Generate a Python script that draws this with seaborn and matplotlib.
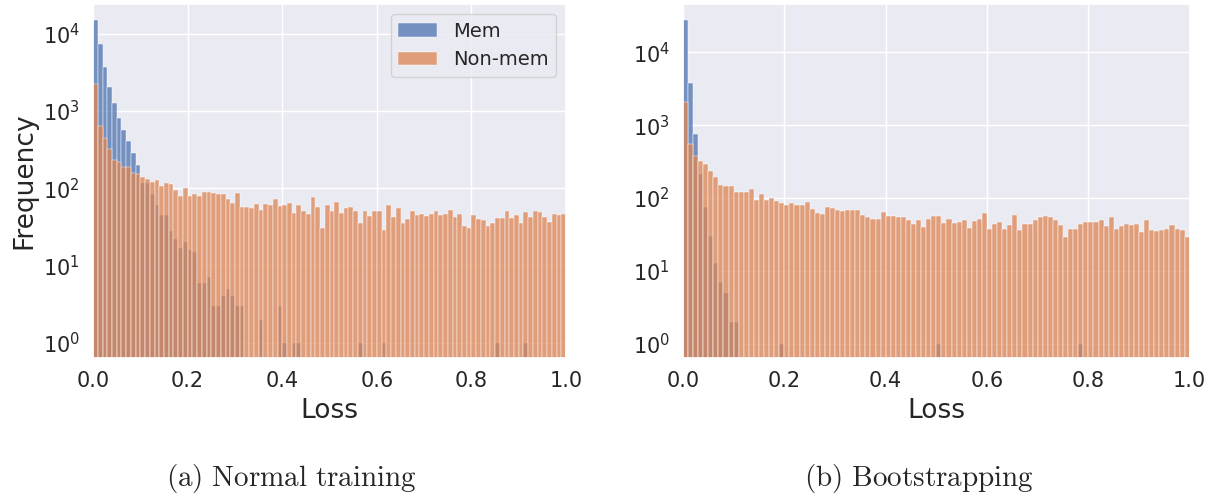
import numpy as np
import pandas as pd
import matplotlib
matplotlib.use("Agg")
import matplotlib.pyplot as plt
import seaborn as sns

# Loss histograms: 100 bins of width 0.01 over [0, 1]
n_bins = 100
loss_range = (0.0, 1.0)

# (a) Normal training
normal_mem = [
    15000, 7400, 3750, 2060, 1260, 800, 570, 405, 286, 202,
    118, 118, 84, 60, 45, 45, 28, 22, 17, 20,
    16, 15, 6, 6, 7, 3, 3, 4, 5, 4,
    3, 3, 0, 0, 0, 2, 0, 0, 0, 3,
    1, 0, 1, 1, 0, 0, 0, 0, 0, 0,
    0, 0, 0, 0, 0, 0, 1, 0, 0, 0,
    0, 1, 0, 0, 0, 0, 0, 0, 0, 0,
    0, 0, 0, 0, 0, 0, 0, 0, 0, 0,
    0, 0, 0, 0, 0, 1, 0, 0, 0, 0,
    0, 1, 0, 0, 0, 0, 0, 0, 0, 0,
]
normal_nonmem = [
    2200, 630, 444, 326, 235, 221, 187, 187, 156, 152,
    140, 132, 120, 128, 106, 116, 112, 94, 80, 102,
    79, 85, 80, 90, 90, 86, 85, 83, 73, 65,
    87, 58, 58, 56, 63, 53, 63, 61, 73, 59,
    60, 65, 48, 60, 50, 47, 76, 58, 31, 60,
    50, 67, 48, 56, 57, 50, 35, 50, 44, 51,
    50, 29, 60, 42, 56, 36, 40, 51, 45, 47,
    44, 47, 51, 45, 47, 53, 43, 47, 32, 31,
    45, 40, 39, 32, 35, 41, 41, 51, 41, 45,
    36, 49, 43, 50, 49, 42, 37, 47, 45, 47,
]

# (b) Bootstrapping
boot_mem = [
    27800, 3830, 764, 216, 75, 30, 13, 7, 5, 2,
    2, 0, 0, 0, 0, 0, 0, 0, 0, 1,
    0, 0, 0, 0, 0, 0, 0, 0, 0, 0,
    0, 0, 0, 0, 0, 0, 0, 0, 0, 0,
    0, 0, 0, 0, 0, 0, 0, 0, 0, 0,
    1, 0, 0, 0, 0, 0, 0, 0, 0, 0,
    0, 0, 0, 0, 0, 0, 0, 0, 0, 0,
    0, 0, 0, 0, 0, 0, 0, 0, 1, 0,
    0, 0, 0, 0, 0, 0, 0, 0, 0, 0,
    0, 0, 0, 0, 0, 0, 0, 0, 0, 0,
]
boot_nonmem = [
    2100, 556, 381, 322, 296, 235, 196, 152, 145, 145,
    121, 121, 121, 133, 95, 113, 95, 100, 91, 86,
    81, 86, 81, 81, 88, 70, 62, 60, 75, 74,
    69, 66, 68, 68, 68, 58, 55, 52, 52, 65,
    57, 57, 55, 55, 50, 44, 50, 40, 52, 57,
    57, 46, 52, 46, 47, 50, 39, 49, 52, 62,
    37, 44, 47, 37, 43, 58, 36, 44, 44, 50,
    54, 57, 54, 50, 43, 29, 38, 38, 44, 47,
    47, 47, 50, 41, 54, 38, 41, 44, 43, 44,
    34, 50, 36, 35, 36, 38, 43, 38, 36, 29,
]

series_labels = ["Mem", "Non-mem"]
x_ticks = [0.0, 0.2, 0.4, 0.6, 0.8, 1.0]
captions = [r"$\mathrm{(a)\ Normal\ training}$", r"$\mathrm{(b)\ Bootstrapping}$"]

sns.set_theme(style="darkgrid")
plt.rcParams["mathtext.fontset"] = "cm"
palette = sns.color_palette("deep")

fig = plt.figure(figsize=(12.15, 4.95), dpi=100)
ax_a = fig.add_axes([0.0766, 0.2762, 0.3893, 0.7157])
ax_b = fig.add_axes([0.5621, 0.2762, 0.4171, 0.7157])

edges = np.linspace(loss_range[0], loss_range[1], n_bins + 1)
centers = (edges[:-1] + edges[1:]) / 2

panels = [
    (ax_a, normal_mem, normal_nonmem, (0.63, 24200)),
    (ax_b, boot_mem, boot_nonmem, (0.63, 46000)),
]
for ax, mem, nonmem, ylim in panels:
    for counts, label, color in zip([mem, nonmem], series_labels, palette[:2]):
        df = pd.DataFrame({"loss": centers, "count": counts})
        sns.histplot(data=df, x="loss", weights="count", bins=n_bins,
                     binrange=loss_range, color=color, alpha=0.75,
                     label=label, ax=ax)
    ax.set_yscale("log")
    ax.set_ylim(*ylim)
    ax.set_xlim(0, 1)
    ax.set_xticks(x_ticks)
    ax.set_xticklabels([f"{t:.1f}" for t in x_ticks])
    ax.tick_params(labelsize=15)
    ax.set_xlabel("Loss", fontsize=19, labelpad=5)
    ax.set_ylabel("")

ax_a.set_ylabel("Frequency", fontsize=19)
ax_a.legend(loc="upper right", fontsize=14)

fig.text(0.24, 0.034, captions[0], ha="center", va="center", fontsize=21)
fig.text(0.756, 0.034, captions[1], ha="center", va="center", fontsize=21)

fig.savefig("out.png", dpi=100)
